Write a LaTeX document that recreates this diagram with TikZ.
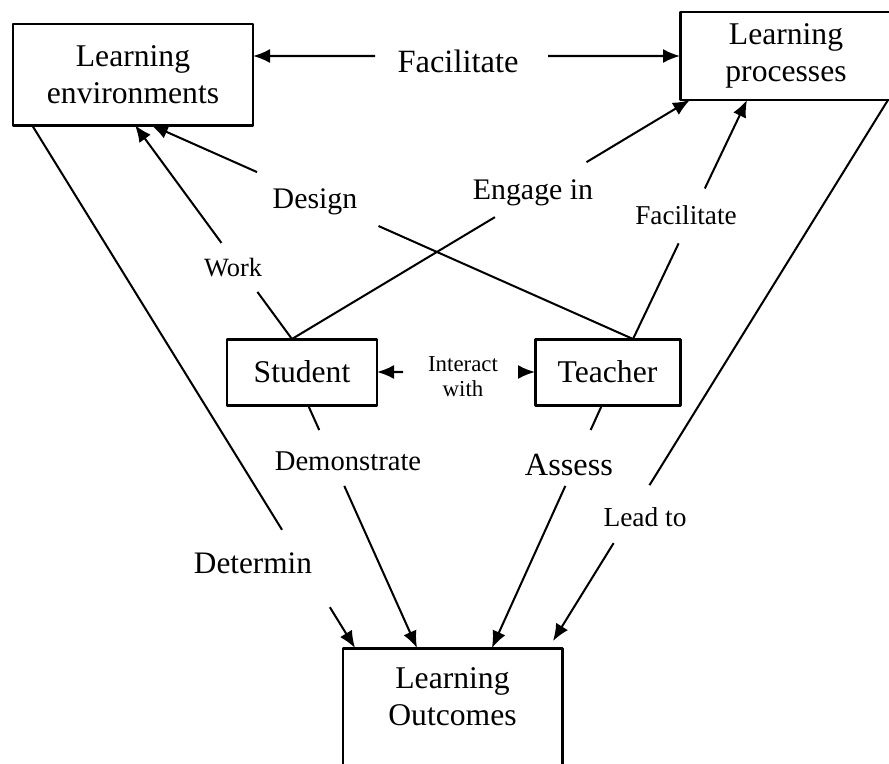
\documentclass[tikz,border=0pt]{standalone}
\usepackage{fontspec}
\setmainfont{Liberation Serif}
\usetikzlibrary{arrows.meta,calc}
\tikzset{
	box/.style={draw, line width=1.7pt, inner sep=0pt, outer sep=0pt, align=center, font=\fontsize{18}{21}\selectfont},
	link/.style={line width=1.15pt},
	lbl/.style={inner sep=0pt, align=center}
}
\begin{document}
\begin{tikzpicture}[line join=round, >={Latex[length=3.4mm,width=2.8mm]}]
	\clip (0,0) rectangle (17.78,-15.26);
	% boxes
	\node[box, minimum width=4.8cm, minimum height=2.02cm] (le) at (2.66,-1.49) {Learning\\environments};
	\node[box, minimum width=4.24cm, minimum height=1.76cm] (lp) at (15.72,-1.12) {Learning\\processes};
	\node[box, minimum width=3cm, minimum height=1.32cm] (st) at (6.04,-7.44) {Student};
	\node[box, minimum width=2.9cm, minimum height=1.32cm] (te) at (12.15,-7.44) {Teacher};
	\node[box, minimum width=4.38cm, anchor=north, inner ysep=0.4cm, text depth=3cm] (lo) at (9.05,-12.96) {Learning\\Outcomes};
	% end points on the boxes
	\path
	($(le.south west)!0.079!(le.south east)$) coordinate (le1)
	(le.east |- lp.west) coordinate (le2)
	($(le.south west)!0.508!(le.south east)$) coordinate (le3)
	($(le.south west)!0.575!(le.south east)$) coordinate (le4)
	($(lp.south west)!0.047!(lp.south east)$) coordinate (lp1)
	($(lp.south west)!0.981!(lp.south east)$) coordinate (lp2)
	($(lp.south west)!0.316!(lp.south east)$) coordinate (lp3)
	($(st.north west)!0.433!(st.north east)$) coordinate (st1)
	($(st.south west)!0.54!(st.south east)$) coordinate (st2)
	($(te.north west)!0.676!(te.north east)$) coordinate (te1)
	($(te.south west)!0.462!(te.south east)$) coordinate (te2)
	($(lo.north west)!0.055!(lo.north east)$) coordinate (lo1)
	($(lo.north west)!0.338!(lo.north east)$) coordinate (lo2)
	($(lo.north west)!0.68!(lo.north east)$) coordinate (lo3)
	($(lo.north east)+(-0.18,0.14)$) coordinate (lo4)
	;
	% connectors, broken where the label sits
	\foreach \a/\b/\s/\t/\tip in {le2/lp.west/0.286/0.691/<-, st.east/te.west/0.165/0.924/<-,
		le1/lo1/0.774/0.922/-, st2/lo2/0.103/0.333/-, te2/lo3/0.103/0.333/-, lp2/lo4/0.712/0.819/-,
		st1/le3/0.22/0.449/-, te1/le4/0.528/0.78/-, st1/lp1/0.51/0.74/-, te1/lp3/0.4/0.63/-}
	{
		\draw[link,\tip] (\a) -- ($(\a)!\s!(\b)$);
		\draw[link,->] ($(\a)!\t!(\b)$) -- (\b);
	}
	% labels
	\node[lbl, font=\fontsize{18.5}{21}\selectfont] (facil1) at (9.16,-1.22) {Facilitate};
	\node[lbl, font=\fontsize{17}{20}\selectfont] (design) at (6.3,-4.03) {Design};
	\node[lbl, font=\fontsize{15}{18}\selectfont] (work) at (4.66,-5.36) {Work};
	\node[lbl, font=\fontsize{17}{20}\selectfont] (engage) at (10.66,-3.86) {Engage in};
	\node[lbl, font=\fontsize{15.5}{18}\selectfont] (facil2) at (13.72,-4.3) {Facilitate};
	\node[lbl, font=\fontsize{13}{14.2}\selectfont] (interact) at (9.26,-7.54) {Interact\\with};
	\node[lbl, font=\fontsize{16.3}{19}\selectfont] (demo) at (6.96,-9.22) {Demonstrate};
	\node[lbl, font=\fontsize{18.4}{21}\selectfont] (assess) at (11.38,-9.3) {Assess};
	\node[lbl, font=\fontsize{15.6}{18}\selectfont] (lead) at (12.9,-10.34) {Lead to};
	\node[lbl, font=\fontsize{17.8}{20}\selectfont] (determ) at (5.06,-11.26) {Determin};
\end{tikzpicture}
\end{document}
